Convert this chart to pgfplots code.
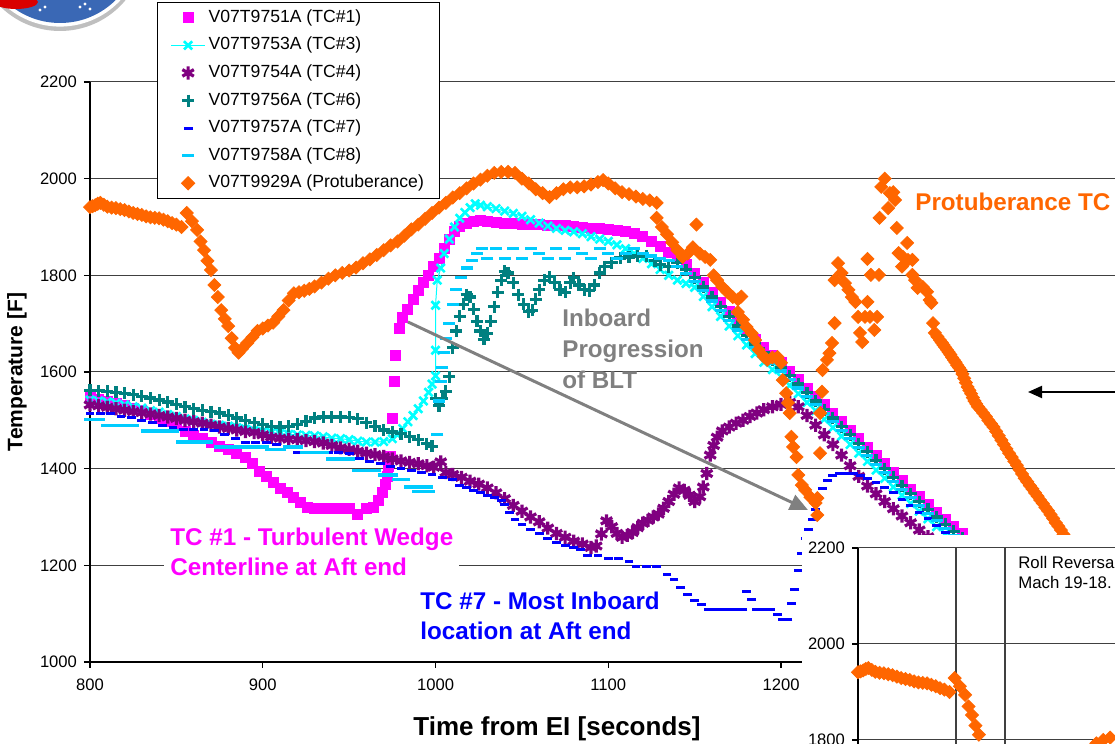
\documentclass[border=0pt]{standalone}
\usepackage{fontspec}
\setmainfont{Liberation Sans}
\usepackage{pgfplots}
\usepackage{pgfplotstable}
\pgfplotsset{compat=1.18}
\usetikzlibrary{arrows.meta}
\definecolor{cMag}{HTML}{FF00FF}
\definecolor{cCyan}{HTML}{00FFFF}
\definecolor{cPurp}{HTML}{800080}
\definecolor{cTeal}{HTML}{008080}
\definecolor{cBlue}{HTML}{0000FF}
\definecolor{cLBlue}{HTML}{00CCFF}
\definecolor{cOrange}{HTML}{FF6600}
\definecolor{cGray}{HTML}{808080}
\definecolor{cNasa}{HTML}{3A68B5}

\pgfplotstableread{
x y
800 1941
801.5 1943
803 1945
804.5 1948
806 1950
808 1946
810 1942
812.5 1940
815 1939
817.5 1937
820 1935
822.5 1932
825 1929
827.5 1927
830 1925
832.5 1922
835 1920
837.5 1919
840 1918
842.5 1915
845 1912
847.5 1908
850 1905
853 1900
856 1929
859 1912
862 1894
864 1870
866 1852
868 1830
870 1811
872 1780
874 1755
876 1728
878 1710
880 1695
882 1670
884 1650
886 1640
888 1648
891 1660
894 1672
897 1685
900 1690
903 1696
906 1702
909 1715
912 1728
915 1748
918 1763
921 1765
924 1768
927 1772
930 1777
934 1785
938 1793
942 1800
946 1805
950 1810
954 1816
958 1825
962 1833
966 1842
970 1852
974 1862
978 1870
982 1882
986 1895
990 1905
994 1917
998 1929
1002 1940
1006 1950
1010 1961
1014 1970
1018 1980
1022 1990
1026 1998
1030 2006
1034 2012
1038 2014
1042 2014
1046 2012
1050 2000
1054 1990
1058 1978
1062 1970
1066 1962
1070 1970
1074 1978
1078 1982
1082 1982
1086 1984
1090 1988
1094 1993
1097 1997
1100 1990
1104 1980
1108 1972
1112 1968
1116 1963
1120 1958
1124 1955
1128 1950
1128 1919
1131 1900
1134 1885
1137 1868
1140 1852
1143 1838
1146 1845
1149 1858
1151 1905
1153 1845
1156 1838
1159 1832
1161 1800
1163 1790
1166 1776
1169 1765
1172 1755
1175 1750
1177 1756
1175 1724
1178 1708
1180 1693
1183 1680
1185 1666
1187 1646
1190 1632
1192 1625
1195 1630
1198 1631
1200 1619
1201 1583
1203 1556
1204 1536
1205 1515
1206 1466
1207 1445
1209 1424
1210 1387
1212 1366
1214 1356
1217 1341
1220 1329
1221 1304
1221 1339
1222.6 1432
1222.6 1515
1223.7 1559
1224 1604
1226.6 1625
1228 1639
1229.5 1660
1231 1701
1231 1790
1233 1825
1235 1805
1237 1784
1239 1770
1241 1755
1243 1745
1244.6 1714
1245.7 1681
1247 1662
1248.6 1714
1250 1745
1251.5 1714
1250 1834
1252 1801
1254 1687
1255.6 1714
1256.7 1801
1257 1919
1258 1983
1260 2000
1262 1939
1263 1970
1265 1972
1266 1956
1267 1898
1268 1846
1270 1818
1270.6 1838
1273 1867
1273.5 1832
1276 1832
1276 1801
1277.6 1790
1279 1774
1282 1776
1284.5 1766
1286 1749
1287 1743
1288 1701
1289 1681
1290.5 1673
1292 1666
1293 1661
1294 1656
1295 1651
1296 1646
1297 1641
1298 1636
1299 1630
1300 1625
1301 1620
1302 1614
1303 1609
1304 1604
1305 1596
1306 1587
1307 1578
1308 1569
1309 1562
1310 1555
1311 1547
1312 1540
1313 1534
1314 1528
1315.5 1522
1317 1515
1318.5 1508
1320 1500
1321.5 1493
1323 1486
1324.5 1477
1326 1468
1327.5 1459
1329 1450
1330.5 1441
1332 1432
1333.5 1424
1335 1415
1336.5 1407
1338 1398
1339.5 1389
1341 1380
1342.5 1373
1344 1365
1345.5 1358
1347 1350
1348.5 1343
1350 1335
1351.5 1328
1353 1320
1354.5 1313
1356 1305
1357.5 1297
1359 1288
1360.5 1281
1362 1273
1363.5 1264
1365 1255
1366.5 1248
1368 1240
}\orangedata

\begin{document}
\begin{tikzpicture}
\useasboundingbox (0,0) rectangle (557.5pt,372pt);
\begin{scope}
\clip (0,0) rectangle (557.5pt,372pt);
% logo
\fill[black!25] (30pt,399pt) circle (42.5pt);
\fill[white] (30pt,400pt) circle (41.3pt);
\fill[cNasa] (30pt,400pt) circle (39.5pt);
\fill[red!85!black] (8pt,371pt) ellipse (11pt and 3.5pt);
\foreach \p in {(20pt,367pt),(22.5pt,368.5pt),(40pt,368.5pt),(42.5pt,370pt),(45pt,367.5pt)} \fill[white] \p circle (0.8pt);

\begin{axis}[
  at={(45pt,41pt)}, anchor=south west,
  scale only axis, width=512.5pt, height=290pt,
  xmin=800, xmax=1393.3, ymin=1000, ymax=2200,
  axis x line*=bottom, axis y line*=left,
  axis line style={black, line width=0.6pt},
  xtick={800,900,1000,1100,1200},
  ytick={1000,1200,1400,1600,1800,2000,2200},
  tick align=outside, major tick length=3pt,
  tick style={black, line width=0.6pt},
  ymajorgrids, grid style={black!75, line width=0.5pt},
  ticklabel style={font=\fontsize{8.3}{10}\selectfont},
  xticklabel style={yshift=-2pt},
  /pgf/number format/assume math mode=true,
  /pgf/number format/1000 sep={},
  legend cell align=left,
  legend style={at={(0.0654,1.1379)}, anchor=north west, draw=black, line width=0.5pt,
    fill=white, font=\fontsize{8.8}{10}\selectfont, inner xsep=6.5pt, inner ysep=2pt,
    row sep=2.6pt, nodes={inner sep=1.5pt, text height=6.4pt, text depth=1.8pt}},
]
% TC#1 magenta
\addplot[only marks, mark=square*, color=cMag, mark size=2.5pt] coordinates {
(800,1548) (805,1544) (810,1540) (815,1535) (820,1530) (825,1525) (830,1520) (835,1512) (840,1505) (845,1498) (850,1490) (855,1478) (860,1468) (865,1462) (870,1455) (875,1447) (880,1440) (885,1432) (890,1424) (894,1410) (898,1395) (902,1383) (906,1372) (910,1360) (914,1350) (918,1340) (922,1330) (926,1320) (930,1318) (935,1318) (940,1318) (945,1318) (950,1318) (955,1306) (960,1318) (964,1320) (967,1335) (969,1350) (971,1368) (972,1385) (973,1405) (974,1425) (975,1505) (976,1580) (977,1635) (979,1690) (981,1712) (984,1730) (987,1750) (990,1768) (993,1785) (996,1800) (999,1818) (1002,1836) (1005,1856) (1008,1874) (1011,1890) (1014,1902) (1018,1908) (1022,1912) (1026,1913) (1030,1912) (1035,1910) (1040,1908) (1045,1907) (1050,1906) (1055,1905) (1060,1905) (1065,1904) (1070,1903) (1075,1903) (1080,1902) (1085,1900) (1090,1898) (1095,1897) (1100,1895) (1105,1893) (1110,1890) (1115,1886) (1120,1880) (1125,1870) (1130,1860) (1135,1848)
(1140,1836) (1145,1822) (1150,1805) (1155,1786) (1160,1765) (1165,1745) (1170,1725) (1175,1705) (1180,1686) (1185,1668) (1190,1650) (1195,1635) (1200,1620) (1205,1602) (1210,1585) (1215,1567) (1220,1550) (1225,1532) (1230,1515) (1235,1497) (1240,1480) (1245,1462) (1250,1445) (1255,1427) (1260,1410) (1265,1392) (1270,1375) (1275,1358) (1280,1342) (1285,1326) (1290,1310) (1295,1295) (1300,1280) (1305,1266) (1310,1252) (1315,1238)};
% TC#3 cyan
\addplot[color=cCyan, line width=0.5pt, mark=x, mark size=2.9pt, mark options={line width=1.3pt}] coordinates {
(800,1542) (805,1540) (810,1538) (815,1536) (820,1532) (825,1528) (830,1525) (835,1520) (840,1517) (845,1512) (850,1508) (855,1503) (860,1500) (865,1496) (870,1492) (875,1490) (880,1488) (885,1485) (890,1482) (895,1479) (900,1477) (905,1475) (910,1473) (915,1471) (920,1470) (925,1469) (930,1468) (935,1466) (940,1463) (945,1462) (950,1460) (955,1457) (960,1455) (965,1455) (970,1456) (975,1462) (978,1470) (981,1483) (984,1497) (987,1510) (990,1524) (993,1540) (996,1558) (998,1575) (1000,1592) (1000,1645) (1000,1738) (1001,1790) (1003,1815) (1005,1845) (1008,1875) (1011,1900) (1014,1918) (1017,1930) (1020,1940) (1023,1948) (1026,1945) (1030,1942) (1035,1938) (1040,1933) (1045,1928) (1050,1922) (1055,1915) (1060,1908) (1065,1902) (1070,1897) (1075,1893) (1080,1890) (1085,1886) (1090,1880) (1095,1875) (1100,1870) (1105,1863) (1110,1855) (1115,1845) (1120,1835) (1125,1824) (1130,1812) (1135,1800) (1140,1790) (1145,1783)
(1150,1775) (1155,1756) (1160,1735) (1165,1715) (1170,1695) (1175,1675) (1180,1656) (1185,1638) (1190,1620) (1195,1605) (1200,1590) (1205,1572) (1210,1555) (1215,1537) (1220,1520) (1225,1502) (1230,1485) (1235,1467) (1240,1450) (1245,1432) (1250,1415) (1255,1397) (1260,1380) (1265,1362) (1270,1345) (1275,1328) (1280,1312) (1285,1296) (1290,1280) (1295,1265) (1300,1250)};
% TC#4 purple
\addplot[only marks, color=cPurp, mark=asterisk, mark size=3.3pt, mark options={line width=1.6pt}] coordinates {
(800,1532) (805,1530) (810,1527) (815,1524) (820,1521) (825,1518) (830,1516) (835,1513) (840,1510) (845,1507) (850,1504) (855,1500) (860,1497) (865,1494) (870,1490) (875,1486) (880,1483) (885,1480) (890,1477) (895,1475) (900,1470) (905,1465) (910,1463) (915,1461) (920,1460) (925,1458) (930,1456) (935,1453) (940,1448) (945,1443) (950,1440) (955,1436) (960,1432) (965,1429) (970,1425) (975,1420) (980,1416) (985,1413) (990,1410) (995,1406) (999,1403) (1003,1414) (1006,1392) (1010,1388) (1015,1382) (1020,1374) (1025,1368) (1030,1360) (1035,1350) (1040,1338) (1045,1324) (1050,1312) (1055,1300) (1060,1290) (1065,1277) (1070,1266) (1075,1258) (1080,1250) (1085,1244) (1090,1237) (1093,1240) (1096,1265) (1099,1292) (1102,1280) (1105,1266) (1108,1258) (1111,1262) (1114,1268) (1117,1278) (1120,1287) (1123,1293) (1126,1300) (1129,1306) (1132,1318) (1135,1332) (1138,1347) (1141,1360) (1144,1355) (1147,1345) (1150,1332) (1153,1342) (1155,1362) (1157,1390) (1159,1428) (1161,1448) (1163,1465) (1166,1478) (1170,1486) (1174,1494) (1178,1500) (1182,1508) (1186,1515) (1190,1522) (1195,1528) (1200,1533) (1205,1537) (1210,1528) (1215,1510) (1220,1490) (1225,1470) (1230,1450) (1235,1428) (1240,1406) (1245,1384) (1250,1364) (1255,1348) (1260,1332) (1265,1317) (1270,1302) (1275,1288) (1280,1273) (1285,1259) (1290,1245)};
% TC#6 teal
\addplot[only marks, color=cTeal, mark=+, mark size=3pt, mark options={line width=1.6pt}] coordinates {
(800,1562) (805,1561) (810,1560) (815,1558) (820,1556) (825,1553) (830,1550) (835,1546) (840,1542) (845,1538) (850,1533) (855,1528) (860,1524) (865,1521) (870,1518) (875,1515) (880,1510) (885,1505) (890,1500) (895,1495) (900,1492) (905,1488) (910,1486) (915,1488) (920,1492) (925,1498) (930,1505) (935,1507) (940,1507) (945,1507) (950,1506) (955,1503) (960,1495) (965,1488) (970,1480) (975,1476) (980,1472) (985,1466) (990,1460) (995,1452) (998,1446)
(1000,1545) (1002,1530) (1004,1545) (1006,1560) (1008,1590) (1010,1650) (1012,1685) (1014,1715) (1016,1740) (1018,1760) (1020,1755) (1022,1730) (1024,1705) (1026,1685) (1028,1668) (1030,1680) (1032,1705) (1034,1735) (1036,1765) (1038,1790) (1040,1808) (1042,1805) (1045,1785) (1048,1760) (1051,1740) (1054,1725) (1056,1728) (1058,1750) (1060,1770) (1063,1790) (1066,1797) (1069,1785) (1072,1770) (1075,1765) (1078,1785) (1080,1795) (1083,1780) (1086,1770) (1089,1768) (1092,1780) (1095,1805) (1098,1818) (1102,1826) (1107,1836) (1112,1838) (1117,1840) (1122,1840) (1127,1830) (1130,1822) (1135,1818) (1140,1826)
(1145,1812) (1150,1795) (1155,1776) (1160,1755) (1165,1735) (1170,1715) (1175,1695) (1180,1676) (1185,1658) (1190,1640) (1195,1625) (1200,1610) (1205,1592) (1210,1575) (1215,1557) (1220,1540) (1225,1522) (1230,1505) (1235,1487) (1240,1470) (1245,1452) (1250,1435) (1255,1417) (1260,1400) (1265,1382) (1270,1365) (1275,1348) (1280,1332) (1285,1316) (1290,1300) (1295,1285) (1300,1270) (1305,1256) (1310,1242)};
% TC#7 blue
\addplot[only marks, color=cBlue, mark=-, mark size=2.2pt, mark options={line width=1.5pt}] coordinates {
(800,1515) (806,1515) (812,1515) (818,1508) (824,1505) (830,1500) (836,1495) (842,1490) (848,1485) (854,1480) (860,1480) (866,1480) (872,1478) (878,1470) (884,1462) (890,1455) (896,1455) (902,1455) (908,1450) (914,1445) (920,1434) (926,1434) (932,1434) (938,1434) (944,1434) (950,1432) (956,1422) (962,1415) (968,1411) (974,1405) (980,1400) (986,1397) (992,1392) (998,1387) (1004,1382) (1010,1377) (1014,1365) (1018,1360) (1022,1355) (1026,1350) (1030,1345) (1034,1341) (1038,1335) (1040,1325) (1043,1310) (1046,1294) (1050,1285) (1055,1275) (1060,1265) (1065,1255) (1070,1248) (1075,1240) (1080,1236) (1084,1232) (1088,1221) (1094,1221) (1100,1215) (1106,1215) (1112,1207) (1116,1197) (1122,1197) (1128,1197) (1134,1180) (1138,1170) (1142,1155) (1146,1140) (1150,1128) (1154,1118) (1158,1108) (1162,1108) (1166,1108) (1170,1108) (1174,1108) (1178,1108) (1180,1145) (1183,1130) (1186,1108) (1190,1108) (1194,1108) (1198,1098) (1201,1087) (1204,1087) (1206,1120) (1208,1150) (1210,1190) (1212,1225) (1214,1255) (1216,1275) (1218,1295) (1220,1315) (1222,1340) (1224,1358) (1227,1375) (1230,1386) (1234,1390) (1238,1391) (1242,1390) (1246,1386) (1250,1380) (1255,1372) (1260,1362) (1265,1350) (1270,1337) (1275,1323) (1280,1310) (1285,1296) (1290,1282) (1295,1268) (1300,1254)};
% TC#8 light blue
\addplot[only marks, color=cLBlue, mark=-, mark size=3pt, mark options={line width=1.6pt}] coordinates {
(800,1502) (805,1502) (810,1490) (815,1490) (820,1490) (825,1490) (833,1478) (838,1478) (843,1478) (848,1478) (853,1455) (858,1455) (863,1455) (868,1455) (875,1445) (880,1445) (885,1445) (890,1445) (895,1445) (900,1445) (905,1440) (910,1440) (915,1445) (920,1445) (925,1433) (930,1433) (935,1433) (940,1420) (945,1420) (950,1420) (955,1397) (960,1397) (965,1397) (970,1387) (975,1387) (978,1377) (982,1377) (985,1362) (990,1362) (995,1362) (990,1352) (996,1352) (1001,1470)
(1002,1540) (1003,1580) (1004,1610) (1005,1640) (1006,1670) (1008,1700) (1010,1740) (1012,1770) (1015,1795) (1018,1815) (1021,1830) (1024,1845) (1027,1855) (1030,1835) (1035,1855) (1040,1835) (1045,1855) (1050,1835) (1055,1855) (1060,1845) (1065,1835) (1070,1855) (1075,1835) (1080,1855) (1085,1845) (1090,1835) (1095,1855) (1100,1845) (1105,1835) (1110,1845) (1115,1855) (1120,1845) (1125,1840) (1130,1835)
(1135,1830) (1140,1818) (1145,1804) (1150,1787) (1155,1768) (1160,1747) (1165,1727) (1170,1707) (1175,1687) (1180,1668) (1185,1650) (1190,1632) (1195,1617) (1200,1602) (1205,1584) (1210,1567) (1215,1549) (1220,1532) (1225,1514) (1230,1497) (1235,1479) (1240,1462) (1245,1444) (1250,1427) (1255,1409) (1260,1392) (1265,1374) (1270,1357) (1275,1340) (1280,1324) (1285,1308) (1290,1292) (1295,1277) (1300,1262) (1305,1248)};
% Protuberance orange
\addplot[only marks, color=cOrange, mark=square*, mark size=2.3pt, mark options={rotate=45}] table {\orangedata};
\legend{V07T9751A (TC\#1), V07T9753A (TC\#3), V07T9754A (TC\#4), V07T9756A (TC\#6), V07T9757A (TC\#7), V07T9758A (TC\#8), V07T9929A (Protuberance)}
\end{axis}

% annotations
\node[anchor=west, inner sep=0, align=left, font=\bfseries\fontsize{12.1}{15.5}\selectfont, text=cGray] at (281pt,197.5pt) {Inboard\\Progression\\of BLT};
\node[anchor=west, inner sep=0, font=\bfseries\fontsize{12.1}{14.5}\selectfont, text=cOrange] at (457.5pt,271pt) {Protuberance TC};
\node[anchor=west, inner sep=3pt, fill=white, align=left, font=\bfseries\fontsize{12.1}{15}\selectfont, text=cMag] at (82pt,96pt) {TC \#1 - Turbulent Wedge\\Centerline at Aft end};
\node[anchor=west, inner sep=0, align=left, font=\bfseries\fontsize{12.1}{15}\selectfont, text=cBlue] at (210pt,64pt) {TC \#7 - Most Inboard\\location at Aft end};
\node[rotate=90, font=\bfseries\fontsize{10.5}{12}\selectfont] at (8.5pt,186pt) {Temperature [F]};
\node[font=\bfseries\fontsize{13}{15}\selectfont] at (278.5pt,7.5pt) {Time from EI [seconds]};
\draw[cGray, line width=1.5pt, -{Triangle[length=9pt,width=8pt]}] (204pt,211pt) -- (404pt,117pt);
\draw[black, line width=1pt, -{Triangle[length=7pt,width=6pt]}] (560pt,176pt) -- (514pt,176pt);

% inset
\fill[white] (401pt,-1pt) rectangle (560pt,104.5pt);
\begin{axis}[
  at={(429pt,-0.4pt)}, anchor=south west,
  scale only axis, width=128.5pt, height=98.4pt,
  xmin=800, xmax=948.8, ymin=1790, ymax=2200,
  axis y line*=left, axis x line=none,
  axis line style={black, line width=0.6pt},
  ytick={1800,2000,2200}, xtick=\empty,
  tick align=outside, major tick length=3pt,
  tick style={black, line width=0.6pt},
  ymajorgrids, grid style={black!75, line width=0.5pt},
  ticklabel style={font=\fontsize{8.3}{10}\selectfont},
  /pgf/number format/assume math mode=true,
  /pgf/number format/1000 sep={},
]
\draw[black!75, line width=0.6pt] (axis cs:856.7,1790) -- (axis cs:856.7,2200);
\draw[black!75, line width=0.6pt] (axis cs:885.1,1790) -- (axis cs:885.1,2200);
\addplot[only marks, color=cOrange, mark=square*, mark size=2.3pt, mark options={rotate=45}] table {\orangedata};
\node[anchor=west, inner sep=0, align=left, font=\fontsize{8.4}{10}\selectfont] at (axis cs:892.6,2148) {Roll Reversal\\Mach 19-18.};
\end{axis}
\end{scope}
\end{tikzpicture}
\end{document}
